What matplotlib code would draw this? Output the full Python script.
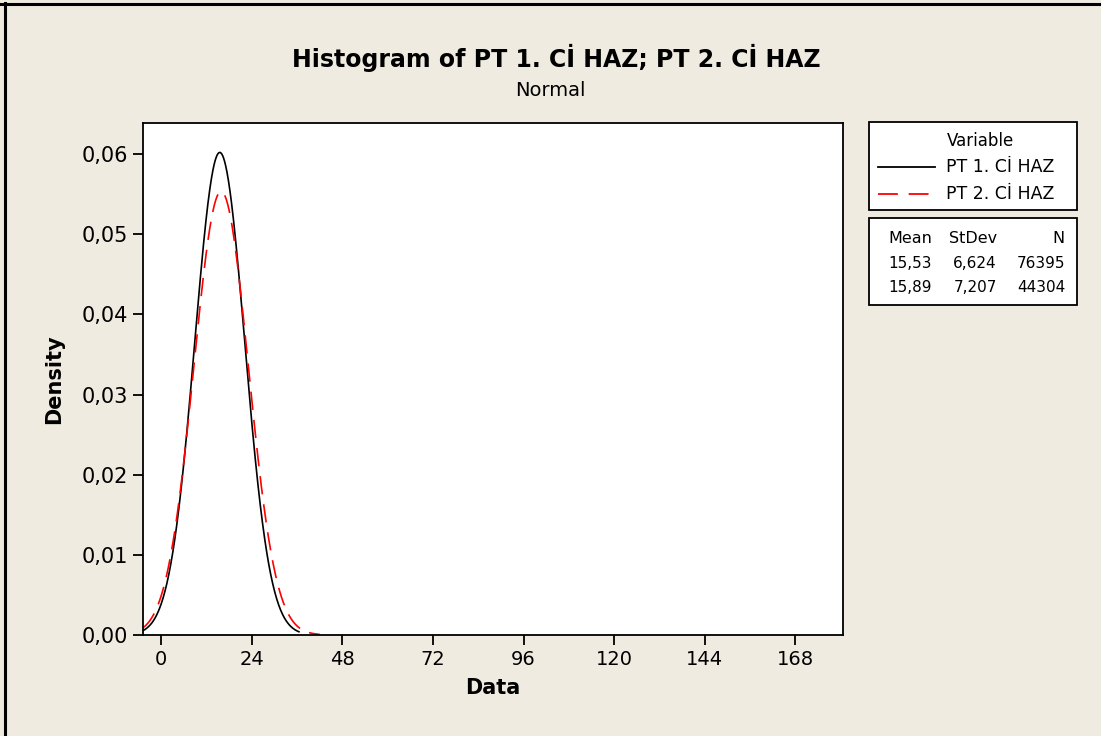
import numpy as np
import matplotlib
matplotlib.use('Agg')
import matplotlib.pyplot as plt
from matplotlib.patches import Rectangle
from matplotlib.lines import Line2D

# --- datos ---
series = ['PT 1. Cİ HAZ', 'PT 2. Cİ HAZ']
means = [15.53, 15.89]
stdevs = [6.624, 7.207]
counts = [76395, 44304]
curve_end = [36.5, 42.0]          # donde termina cada curva ajustada
colors = ['black', '#ff0000']
styles = ['-', (0, (11, 6))]

x_ticks = [0, 24, 48, 72, 96, 120, 144, 168]
y_ticks = [0.00, 0.01, 0.02, 0.03, 0.04, 0.05, 0.06]

BG = '#efebe1'
W, H = 1101, 736


def fx(px):
    return px / W


def fy(py):
    return 1 - py / H


def comma(v, nd):
    return f"{v:.{nd}f}".replace('.', ',')


fig = plt.figure(figsize=(W / 100, H / 100), dpi=100, facecolor=BG)
ax = fig.add_axes([fx(143), fy(635), fx(843) - fx(143), fy(123) - fy(635)])
ax.set_facecolor('white')

xmin, xmax = -4.8, 180.6
for mu, sd, xe, c, ls in zip(means, stdevs, curve_end, colors, styles):
    xs = np.linspace(xmin, xe, 400)
    ys = np.exp(-0.5 * ((xs - mu) / sd) ** 2) / (sd * np.sqrt(2 * np.pi))
    ax.plot(xs, ys, color=c, linestyle=ls, linewidth=1.2)

ax.set_xlim(xmin, xmax)
ax.set_ylim(0, 0.0639)
ax.set_xticks(x_ticks)
ax.set_xticklabels([str(t) for t in x_ticks])
ax.set_yticks(y_ticks)
ax.set_yticklabels([comma(t, 2) for t in y_ticks])
ax.tick_params(direction='out', length=7, width=1.3, labelsize=15, pad=4)
ax.tick_params(axis='x', labelsize=14)
for sp in ax.spines.values():
    sp.set_linewidth(1.3)

ax.set_xlabel('Data', fontsize=15, fontweight='bold', labelpad=6)
ax.set_ylabel('Density', fontsize=15, fontweight='bold', labelpad=12)

fig.text(fx(556), fy(58), 'Histogram of PT 1. Cİ HAZ; PT 2. Cİ HAZ',
         ha='center', va='center', fontsize=17, fontweight='bold')
fig.text(fx(550), fy(90), 'Normal', ha='center', va='center', fontsize=14)

# --- leyenda manual estilo Minitab ---
fig.add_artist(Rectangle((fx(869), fy(210)), fx(1077) - fx(869), fy(122) - fy(210),
                         transform=fig.transFigure, facecolor='white',
                         edgecolor='black', linewidth=1.3))
fig.text(fx(981), fy(141), 'Variable', ha='center', va='center', fontsize=12)
legend_end = [935, 929]
for i, (name, c, ls) in enumerate(zip(series, colors, styles)):
    yy = fy(167 + 27 * i)
    fig.add_artist(Line2D([fx(878), fx(legend_end[i])], [yy, yy],
                          transform=fig.transFigure,
                          color=c, linestyle=ls, linewidth=1.3))
    fig.text(fx(946), yy, name, ha='left', va='center', fontsize=12.5)

fig.add_artist(Rectangle((fx(869), fy(305)), fx(1077) - fx(869), fy(218) - fy(305),
                         transform=fig.transFigure, facecolor='white',
                         edgecolor='black', linewidth=1.3))
col_x = [932, 997, 1065]
for x, h in zip(col_x, ['Mean', 'StDev', 'N']):
    fig.text(fx(x), fy(238), h, ha='right', va='center', fontsize=11.5)
for i in range(len(series)):
    yy = fy(263 + 24 * i)
    row = [comma(means[i], 2), comma(stdevs[i], 3), str(counts[i])]
    for x, v in zip(col_x, row):
        fig.text(fx(x), yy, v, ha='right', va='center', fontsize=11)

# borde superior e izquierdo de la figura
fig.add_artist(Line2D([0, 1], [fy(4), fy(4)], transform=fig.transFigure,
                      color='black', linewidth=2.2))
fig.add_artist(Line2D([fx(4.5), fx(4.5)], [0, fy(3)], transform=fig.transFigure,
                      color='black', linewidth=2.2))

fig.savefig('out.png', dpi=100, facecolor=BG)
